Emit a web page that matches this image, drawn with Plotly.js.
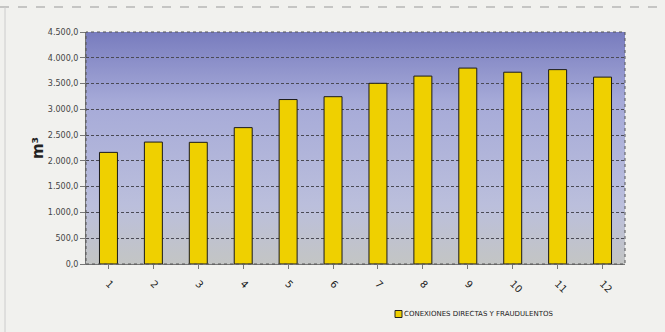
<!DOCTYPE html>
<html>
<head>
<meta charset="utf-8">
<script src="https://cdn.plot.ly/plotly-3.0.1.min.js"></script>
<style>
  html, body { margin: 0; padding: 0; background: #f1f1ee; }
  #chart { width: 665px; height: 332px; }
</style>
</head>
<body>
<div id="chart"></div>
<script>
const categories = ['1','2','3','4','5','6','7','8','9','10','11','12'];
const values = [2165, 2365, 2360, 2645, 3190, 3245, 3505, 3645, 3800, 3720, 3770, 3625];
const seriesName = 'CONEXIONES DIRECTAS Y FRAUDULENTOS';
const yTicks = [0, 500, 1000, 1500, 2000, 2500, 3000, 3500, 4000, 4500];

const W = 665, H = 332, ML = 86, MR = 40, MT = 32, MB = 68;
const PW = W - ML - MR, PH = H - MT - MB;
const px = v => (v - ML) / PW;          // pixel -> paper x
const py = v => (H - MB - v) / PH;      // pixel -> paper y

const grad = '<svg xmlns="http://www.w3.org/2000/svg" width="100" height="100" preserveAspectRatio="none">' +
  '<defs><linearGradient id="g" x1="0" y1="0" x2="0" y2="1">' +
  '<stop offset="0" stop-color="#787cbe"/>' +
  '<stop offset="0.3" stop-color="#a6aad8"/>' +
  '<stop offset="0.75" stop-color="#bbbfdc"/>' +
  '<stop offset="1" stop-color="#c3c5c4"/>' +
  '</linearGradient></defs><rect width="100" height="100" fill="url(#g)"/></svg>';
const gradURI = 'data:image/svg+xml;base64,' + btoa(grad);

const trace = {
  type: 'bar',
  x: categories,
  y: values,
  name: seriesName,
  marker: { color: '#efd000', line: { color: '#1a1a1a', width: 1 } },
  showlegend: false
};

const layout = {
  width: W, height: H,
  margin: { l: ML, r: MR, t: MT, b: MB },
  paper_bgcolor: '#f1f1ee',
  plot_bgcolor: 'rgba(0,0,0,0)',
  separators: ',.',
  bargap: 0.6,
  showlegend: false,
  font: { family: 'DejaVu Sans, sans-serif', color: '#333' },
  images: [{
    source: gradURI, xref: 'paper', yref: 'paper', x: 0, y: 1,
    sizex: 1, sizey: 1, sizing: 'stretch', layer: 'below',
    xanchor: 'left', yanchor: 'top'
  }],
  xaxis: {
    type: 'category',
    automargin: false,
    tickangle: 45,
    ticklabelstandoff: 5,
    tickfont: { size: 10, color: '#222' },
    showgrid: false,
    showline: true, linecolor: '#777', linewidth: 1,
    ticks: 'outside', ticklen: 4, tickcolor: '#777'
  },
  yaxis: {
    automargin: false,
    range: [0, 4500],
    tickvals: yTicks,
    tickformat: ',.1f',
    tickfont: { size: 8, color: '#444' },
    showgrid: true, gridcolor: '#4a4a55', griddash: '3px,2px', gridwidth: 1,
    showline: true, linecolor: '#777', linewidth: 1,
    ticks: 'outside', ticklen: 5, tickcolor: '#777',
    zeroline: false,
    title: { text: '<b>m³</b>', font: { size: 15, color: '#222' }, standoff: 0 }
  },
  annotations: [
    { xref: 'paper', yref: 'paper', x: px(402), y: py(314), xanchor: 'left', yanchor: 'middle',
      text: seriesName, showarrow: false, font: { size: 7, color: '#222' } }
  ],
  shapes: [
    { type: 'rect', xref: 'paper', yref: 'paper', x0: 0, x1: 1, y0: 0, y1: 1,
      line: { color: '#555', width: 1, dash: 'dot' } },
    { type: 'rect', xref: 'paper', yref: 'paper', x0: px(395), x1: px(402), y0: py(310.5), y1: py(317.5),
      fillcolor: '#efd000', line: { color: '#222', width: 1 } },
    { type: 'line', xref: 'paper', yref: 'paper', x0: px(0), x1: px(665), y0: py(7), y1: py(7),
      line: { color: '#999', width: 1, dash: 'dash' } },
    { type: 'line', xref: 'paper', yref: 'paper', x0: px(5), x1: px(5), y0: py(7), y1: py(332),
      line: { color: '#ccc', width: 1 } }
  ]
};

Plotly.newPlot('chart', [trace], layout, { displayModeBar: false, staticPlot: true });
</script>
</body>
</html>
